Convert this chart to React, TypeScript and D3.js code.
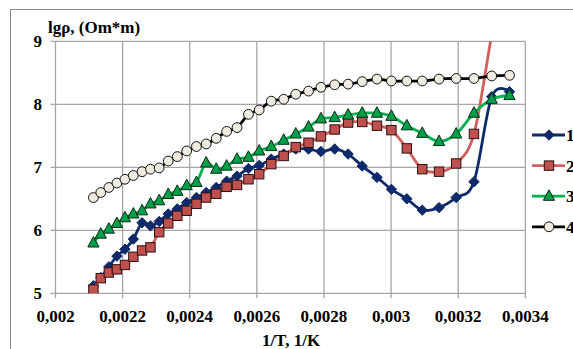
import React from "react";
import * as d3 from "d3";

const xValues = [0.002113, 0.002135, 0.002159, 0.002183, 0.002207, 0.002232, 0.002258, 0.002283, 0.002309, 0.002336, 0.002363, 0.002391, 0.00242, 0.002449, 0.002479, 0.00251, 0.002541, 0.002575, 0.002607, 0.002643, 0.00268, 0.002716, 0.002754, 0.002791, 0.002832, 0.002872, 0.002914, 0.002958, 0.003001, 0.003047, 0.003093, 0.003143, 0.003194, 0.003247, 0.0033, 0.003353];

const series1 = [5.12, 5.25, 5.42, 5.59, 5.70, 5.86, 6.12, 6.07, 6.14, 6.26, 6.34, 6.44, 6.52, 6.60, 6.68, 6.78, 6.86, 6.98, 7.03, 7.13, 7.21, 7.29, 7.29, 7.25, 7.29, 7.21, 7.02, 6.84, 6.65, 6.50, 6.32, 6.36, 6.52, 6.77, 8.12, 8.20];
const series2 = [5.06, 5.24, 5.33, 5.38, 5.45, 5.58, 5.68, 5.73, 5.97, 6.11, 6.23, 6.31, 6.42, 6.52, 6.58, 6.69, 6.72, 6.81, 6.89, 7.05, 7.18, 7.32, 7.39, 7.49, 7.60, 7.71, 7.72, 7.66, 7.59, 7.30, 6.97, 6.93, 7.06, 7.53, 9.1, 10.5];
const series3 = [5.80, 5.94, 6.02, 6.11, 6.20, 6.26, 6.31, 6.42, 6.47, 6.57, 6.62, 6.71, 6.76, 7.07, 6.97, 7.02, 7.13, 7.16, 7.26, 7.33, 7.43, 7.53, 7.64, 7.77, 7.79, 7.83, 7.86, 7.86, 7.81, 7.66, 7.54, 7.41, 7.53, 7.86, 8.08, 8.14];
const series4 = [6.52, 6.60, 6.68, 6.75, 6.81, 6.87, 6.93, 6.97, 6.99, 7.10, 7.17, 7.26, 7.33, 7.37, 7.46, 7.57, 7.63, 7.84, 7.91, 8.05, 8.08, 8.16, 8.21, 8.27, 8.31, 8.32, 8.36, 8.40, 8.37, 8.37, 8.37, 8.40, 8.41, 8.41, 8.45, 8.46];

const seriesNames = ["1", "2", "3", "4"];
const xTicks = [0.002, 0.0022, 0.0024, 0.0026, 0.0028, 0.003, 0.0032, 0.0034];
const yTicks = [5, 6, 7, 8, 9];
const yTitle = "lgρ, (Om*m)";
const xTitle = "1/T, 1/K";

const W = 573;
const H = 349;
const L = 55.5, R = 525.3, T = 41.3, B = 293.3;
const FONT = "'Liberation Serif', 'Times New Roman', Tinos, 'Noto Serif', 'DejaVu Serif', serif";

const styles = [
  { line: "#0F2A6B", fill: "#0F2A6B", stroke: "#0F2A6B", shape: "diamond" },
  { line: "#D0605A", fill: "#C0504D", stroke: "#2b1111", shape: "square" },
  { line: "#00B050", fill: "#00A04A", stroke: "#0a2a12", shape: "triangle" },
  { line: "#000000", fill: "#EEECE1", stroke: "#111111", shape: "circle" },
];

function Marker({ shape, x, y, fill, stroke }: any) {
  if (shape === "diamond") {
    const s = 5.2;
    return <path d={`M${x},${y - s}L${x + s},${y}L${x},${y + s}L${x - s},${y}Z`} fill={fill} stroke={stroke} strokeWidth={1} />;
  }
  if (shape === "square") {
    const s = 4.7;
    return <rect x={x - s} y={y - s} width={2 * s} height={2 * s} fill={fill} stroke={stroke} strokeWidth={1} />;
  }
  if (shape === "triangle") {
    const s = 5.6;
    return <path d={`M${x},${y - s - 0.8}L${x + s},${y + s - 1.5}L${x - s},${y + s - 1.5}Z`} fill={fill} stroke={stroke} strokeWidth={1} />;
  }
  return <circle cx={x} cy={y} r={4.9} fill={fill} stroke={stroke} strokeWidth={1} />;
}

export default function App() {
  const x = d3.scaleLinear().domain([0.002, 0.0034]).range([L, R]);
  const y = d3.scaleLinear().domain([5, 9]).range([B, T]);
  const all = [series1, series2, series3, series4];
  const line = d3
    .line<[number, number]>()
    .x((d) => x(d[0]))
    .y((d) => y(d[1]))
    .curve(d3.curveCardinal.tension(0));
  const fmt = (v: number) => String(+v.toFixed(4)).replace(".", ",");
  const txt = { fontFamily: FONT, fontWeight: 700, fontSize: "17px" } as React.CSSProperties;

  return (
    <svg width={W} height={H} style={{ position: "absolute", left: 0, top: 0, background: "#fff" }}>
      <defs>
        <clipPath id="plot">
          <rect x={L} y={T} width={R - L} height={B - T} />
        </clipPath>
      </defs>
      <rect x={10.5} y={9.5} width={700} height={500} fill="#fff" stroke="#8c8c8c" strokeWidth={1} />
      {xTicks.map((t) => (
        <line key={"gx" + t} x1={x(t)} x2={x(t)} y1={T} y2={B + 5} stroke="#A6A6A6" strokeWidth={1.3} />
      ))}
      {yTicks.map((t) => (
        <line key={"gy" + t} x1={L - 5} x2={R} y1={y(t)} y2={y(t)} stroke="#A6A6A6" strokeWidth={1.3} />
      ))}
      {yTicks.map((t) => (
        <text key={"ty" + t} x={42} y={y(t) + 6} textAnchor="end" style={txt}>
          {t}
        </text>
      ))}
      {xTicks.map((t) => (
        <text key={"tx" + t} x={x(t)} y={322} textAnchor="middle" style={txt}>
          {fmt(t)}
        </text>
      ))}
      <text x={48} y={33} style={txt}>{yTitle}</text>
      <text x={291} y={346} textAnchor="middle" style={txt}>{xTitle}</text>
      <g clipPath="url(#plot)">
        {all.map((s, i) => {
          const pts = s.map((v, j) => [xValues[j], v] as [number, number]);
          const st = styles[i];
          return (
            <g key={"s" + i}>
              <path d={line(pts) || ""} fill="none" stroke={st.line} strokeWidth={2.8} />
              {pts.map((p, j) => (
                <Marker key={j} shape={st.shape} x={x(p[0])} y={y(p[1])} fill={st.fill} stroke={st.stroke} />
              ))}
            </g>
          );
        })}
      </g>
      {seriesNames.map((n, i) => {
        const st = styles[i];
        const ly = 135 + i * 30.6;
        return (
          <g key={"l" + i}>
            <line x1={532} x2={565} y1={ly} y2={ly} stroke={st.line} strokeWidth={2.8} />
            <Marker shape={st.shape} x={549} y={ly} fill={st.fill} stroke={st.stroke} />
            <text x={566} y={ly + 6} style={txt}>{n}</text>
          </g>
        );
      })}
    </svg>
  );
}
